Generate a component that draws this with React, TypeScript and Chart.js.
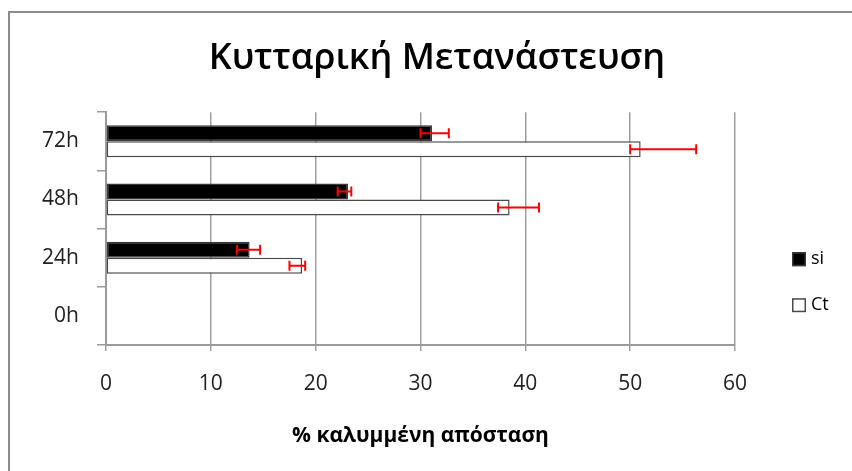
import React, { useEffect, useRef } from 'react';
import { Chart, registerables, layouts } from 'chart.js';

Chart.register(...registerables);

// ---- data ----
const categories = ['72h', '48h', '24h', '0h'];
const seriesNames = ['si', 'Ct'];
const siValues = [31.1, 23.1, 13.7, null];
const ctValues = [51.0, 38.5, 18.7, null];
const siErrMinus = [1.1, 1.0, 1.2, null];
const siErrPlus = [1.6, 0.3, 1.0, null];
const ctErrMinus = [1.0, 1.1, 1.2, null];
const ctErrPlus = [5.3, 2.8, 0.3, null];
const xTicks = [0, 10, 20, 30, 40, 50, 60];
const titleText = 'Κυτταρική Μετανάστευση';
const xTitleText = '% καλυμμένη απόσταση';

const FONT = "'Open Sans', 'Noto Sans', sans-serif";
const CANVAS_W = 874;
const CANVAS_H = 471;

const framePlugin = {
  id: 'frame',
  beforeDraw(chart: any) {
    const { ctx, width, height } = chart;
    ctx.save();
    ctx.fillStyle = '#ffffff';
    ctx.fillRect(0, 0, width, height);
    ctx.strokeStyle = '#8c8c8c';
    ctx.lineWidth = 2;
    ctx.strokeRect(9, 12, width + 20, height + 20);
    ctx.restore();
  },
};

const errorBarPlugin = {
  id: 'errorBars',
  afterDatasetsDraw(chart: any) {
    const { ctx } = chart;
    const xScale = chart.scales.x;
    ctx.save();
    ctx.strokeStyle = '#ff0000';
    ctx.lineWidth = 2;
    chart.data.datasets.forEach((ds: any, d: number) => {
      const meta = chart.getDatasetMeta(d);
      meta.data.forEach((el: any, i: number) => {
        const v = ds.data[i];
        if (v == null) return;
        const lo = xScale.getPixelForValue(v - ds.errMinus[i]);
        const hi = xScale.getPixelForValue(v + ds.errPlus[i]);
        const y = el.y;
        const cap = 5;
        ctx.beginPath();
        ctx.moveTo(lo, y);
        ctx.lineTo(hi, y);
        ctx.moveTo(lo, y - cap);
        ctx.lineTo(lo, y + cap);
        ctx.moveTo(hi, y - cap);
        ctx.lineTo(hi, y + cap);
        ctx.stroke();
      });
    });
    ctx.restore();
  },
};

const legendBoxPlugin = {
  id: 'legendBox',
  beforeInit(chart: any) {
    const box: any = {
      position: 'right',
      weight: 0,
      fullSize: false,
      options: { stackWeight: 1 },
      left: 0, top: 0, right: 0, bottom: 0, width: 0, height: 0,
      isHorizontal() { return false; },
      update(maxWidth: number, maxHeight: number) {
        this.width = 139;
        this.height = maxHeight;
      },
      draw() {
        const ctx = chart.ctx;
        ctx.save();
        chart.data.datasets.forEach((ds: any, i: number) => {
          const cy = this.top + 147 + i * 46;
          const x = this.left + 57;
          ctx.fillStyle = ds.backgroundColor;
          ctx.fillRect(x, cy - 7, 14, 14);
          ctx.strokeStyle = ds.borderColor;
          ctx.lineWidth = 1.5;
          ctx.strokeRect(x + 0.75, cy - 6.25, 12.5, 12.5);
          ctx.fillStyle = '#000000';
          ctx.font = `18px ${FONT}`;
          ctx.textBaseline = 'middle';
          ctx.textAlign = 'left';
          ctx.fillText(ds.label, x + 19, cy);
        });
        ctx.restore();
      },
    };
    layouts.addBox(chart, box);
  },
};

export default function App() {
  const ref = useRef<HTMLCanvasElement | null>(null);

  useEffect(() => {
    if (!ref.current) return;
    const chart = new Chart(ref.current, {
      type: 'bar',
      data: {
        labels: categories,
        datasets: [
          {
            label: seriesNames[0],
            data: siValues,
            backgroundColor: '#000000',
            borderColor: '#3a3a3a',
            borderWidth: 1.5,
            borderSkipped: false,
            errMinus: siErrMinus,
            errPlus: siErrPlus,
          } as any,
          {
            label: seriesNames[1],
            data: ctValues,
            backgroundColor: '#ffffff',
            borderColor: '#4a4a4a',
            borderWidth: 1.5,
            borderSkipped: false,
            errMinus: ctErrMinus,
            errPlus: ctErrPlus,
          } as any,
        ],
      },
      options: {
        indexAxis: 'y',
        animation: false,
        responsive: false,
        devicePixelRatio: 1,
        layout: { padding: 0 },
        datasets: {
          bar: { categoryPercentage: 0.55, barPercentage: 1.0 },
        },
        plugins: {
          legend: { display: false },
          tooltip: { enabled: false },
          title: {
            display: true,
            text: titleText,
            color: '#000000',
            font: { family: FONT, size: 36, weight: 600 },
            padding: { top: 37, bottom: 32 },
          },
        },
        scales: {
          x: {
            type: 'linear',
            min: xTicks[0],
            max: xTicks[xTicks.length - 1],
            afterFit(scale: any) { scale.height = 126; },
            ticks: {
              stepSize: xTicks[1] - xTicks[0],
              color: '#222222',
              font: { family: FONT, size: 21 },
              padding: 20,
            },
            grid: {
              color: '#a0a0a0',
              lineWidth: 1.5,
              drawTicks: true,
              tickLength: 6,
            },
            border: { color: '#9a9a9a', width: 2 },
            title: {
              display: true,
              text: xTitleText,
              color: '#000000',
              font: { family: FONT, size: 21, weight: 'bold' },
              padding: { top: 0, bottom: 22 },
            },
          },
          y: {
            type: 'category',
            afterFit(scale: any) { scale.width = 106; },
            ticks: {
              color: '#222222',
              font: { family: FONT, size: 21 },
              padding: 18,
            },
            grid: {
              drawOnChartArea: false,
              drawTicks: true,
              tickLength: 9,
              color: '#9a9a9a',
              lineWidth: 1.5,
              offset: true,
            },
            border: { color: '#9a9a9a', width: 2 },
          },
        },
      } as any,
      plugins: [framePlugin, legendBoxPlugin, errorBarPlugin],
    });
    return () => chart.destroy();
  }, []);

  return (
    <div style={{ position: 'fixed', left: 0, top: 0, width: 852, height: 471, overflow: 'hidden', background: '#fff' }}>
      <canvas ref={ref} width={CANVAS_W} height={CANVAS_H} style={{ display: 'block', width: CANVAS_W, height: CANVAS_H }} />
    </div>
  );
}
